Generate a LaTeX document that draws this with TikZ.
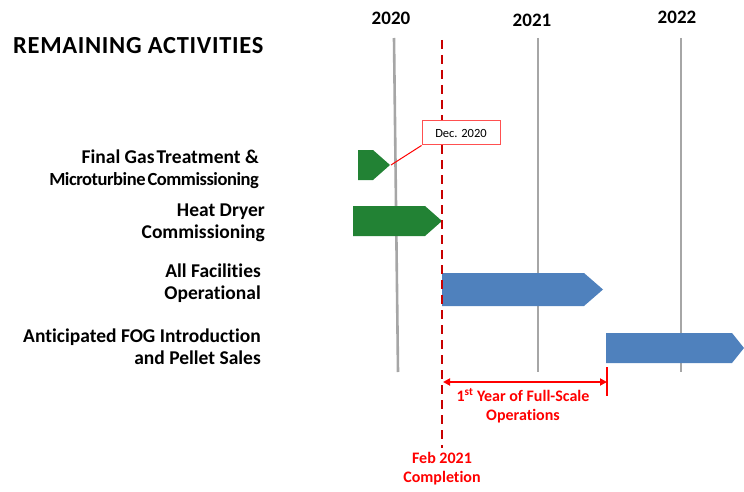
\documentclass[tikz,border=0pt]{standalone}
\usepackage{fontspec}
\setmainfont{Carlito}[Ligatures=NoCommon]
\usetikzlibrary{arrows.meta}
\definecolor{grn}{RGB}{34,130,52}
\definecolor{blu}{RGB}{79,129,189}
\definecolor{dred}{RGB}{200,0,0}
\definecolor{gry}{RGB}{166,166,166}
\tikzset{
  yearline/.style={draw=gry,line width=2.6pt},
  yearlbl/.style={font=\fontsize{19}{21}\selectfont\bfseries,inner sep=0pt},
  actlbl/.style={font=\fontsize{19.5}{22}\selectfont\bfseries,align=right,anchor=east,inner sep=0pt},
  redtxt/.style={font=\fontsize{16}{19}\selectfont\bfseries,text=red,align=center,inner sep=0pt},
}
\begin{document}
\begin{tikzpicture}[x=1pt,y=-1pt]
\useasboundingbox (0,0) rectangle (744,492);
% year lines
\draw[yearline] (394,38) -- (398,372);
\draw[yearline] (538,38) -- (538,372);
\draw[yearline] (681,38) -- (681,372);
\node[yearlbl] (y20) at (391,18) {2020};
\node[yearlbl] (y21) at (532,20) {2021};
\node[yearlbl] (y22) at (677,17) {2022};
% title
\node[font=\fontsize{24.5}{26}\selectfont\bfseries\addfontfeature{LetterSpace=2.8},anchor=west,inner sep=0pt] (title) at (13,46) {REMAINING ACTIVITIES};
% activity labels
\node[actlbl] (a1) at (259,169) {Final Gas\hspace{2pt}Treatment \&\\{\fontsize{18.5}{22}\selectfont\addfontfeature{LetterSpace=-2.5}Microturbine\hspace{2pt}Commissioning}};
\node[actlbl] (a2) at (265,223) {Heat Dryer\\Commissioning};
\node[actlbl] (a3) at (261,283) {All Facilities\\Operational};
\node[actlbl] (a4) at (261,347) {Anticipated FOG Introduction\\and Pellet Sales};
% bars
\fill[grn] (358,150) -- (373,150) -- (390,165) -- (373,180) -- (358,180) -- cycle;
\fill[grn] (353,206) -- (425,206) -- (442,221) -- (425,236) -- (353,236) -- cycle;
\fill[blu] (442,273) -- (584,273) -- (603,289.5) -- (584,306) -- (442,306) -- cycle;
\fill[blu] (606,333) -- (732,333) -- (744,348) -- (732,363) -- (606,363) -- cycle;
% red dashed completion line
\draw[dred,line width=2.6pt,dash pattern=on 9pt off 6pt] (442,40) -- (442,448);
% callout
\node[draw={rgb,255:red,255;green,80;blue,80},fill=white,line width=1pt,minimum width=78pt,minimum height=24pt,inner sep=0pt,font=\fontsize{12.5}{14}\selectfont] (dec) at (461,133) {Dec. 2020};
\coordinate (decpt) at (391,165);
\draw[red,line width=1pt] (dec.south west) -- (decpt);
% dimension
\coordinate (ds) at (443,382);
\coordinate (de) at (607,382);
\coordinate (tt) at (607,367);
\coordinate (tb) at (607,396);
\draw[red,line width=2pt] (tt) -- (tb);
\draw[red,line width=2pt,{Triangle[length=7pt,width=7pt]}-{Triangle[length=7pt,width=7pt]}] (ds) -- (de);
\node[redtxt] (yr) at (523,406) {1\textsuperscript{st} Year of Full-Scale\\Operations};
\node[redtxt] (fb) at (442,469) {Feb 2021\\Completion};
\end{tikzpicture}
\end{document}
